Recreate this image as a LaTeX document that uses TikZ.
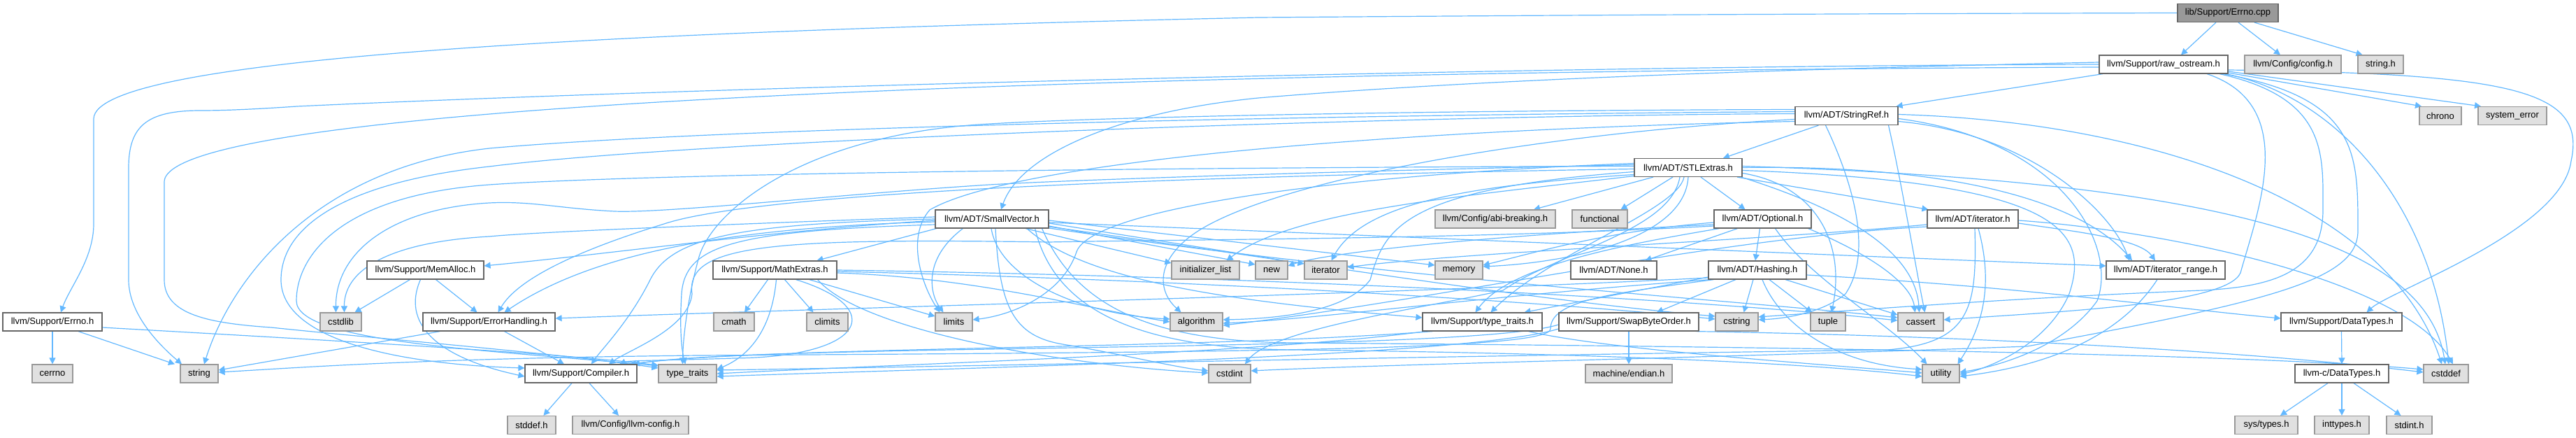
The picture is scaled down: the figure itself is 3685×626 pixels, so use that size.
\documentclass[tikz,border=0pt]{standalone}
\usepackage{fontspec}
\setmainfont{Liberation Sans}
\usetikzlibrary{arrows.meta,calc}
\pgfdeclarelayer{edgelayer}
\pgfsetlayers{edgelayer,main}
\definecolor{edgeblue}{HTML}{63B8FF}
\definecolor{hdrline}{HTML}{666666}
\definecolor{sysfill}{HTML}{E0E0E0}
\definecolor{sysline}{HTML}{999999}
\definecolor{rootfill}{HTML}{999999}
\begin{document}
\begin{tikzpicture}[x=0.5pt,y=-0.5pt,
  hdr/.style={draw=hdrline,fill=white,line width=0.6pt,minimum height=13pt,inner sep=0pt,font=\fontsize{6.5}{7.5}\selectfont,text=black},
  sys/.style={hdr,draw=sysline,fill=sysfill},
  root/.style={hdr,fill=rootfill},
  inc/.style={draw=edgeblue,line width=0.6pt,-{Triangle[length=4.5pt,width=4.5pt]}},
]
\useasboundingbox (0,0) rectangle (3685,626);

% row 0
\node[root,minimum width=72pt] (cpp) at (3187,18.5) {lib/Support/Errno.cpp};
% row 1
\node[hdr,minimum width=92pt] (raw) at (3095,92) {llvm/Support/raw\_ostream.h};
\node[sys,minimum width=69pt] (config) at (3280,92) {llvm/Config/config.h};
\node[sys,minimum width=32.5pt] (stringh) at (3405.5,92) {string.h};
% row 2
\node[hdr,minimum width=73.5pt] (sref) at (2641.5,165.5) {llvm/ADT/StringRef.h};
\node[sys,minimum width=30pt] (chrono) at (3491,165.5) {chrono};
\node[sys,minimum width=49pt] (syserr) at (3594,165.5) {system\_error};
% row 3
\node[hdr,minimum width=77pt] (stl) at (2415,239.5) {llvm/ADT/STLExtras.h};
% row 4
\node[hdr,minimum width=81pt] (svec) at (1419,313) {llvm/ADT/SmallVector.h};
\node[sys,minimum width=86pt] (abi) at (2139,313) {llvm/Config/abi-breaking.h};
\node[sys,minimum width=39.5pt] (functional) at (2288.5,313) {functional};
\node[hdr,minimum width=69.5pt] (opt) at (2521.5,313) {llvm/ADT/Optional.h};
\node[hdr,minimum width=65pt] (iter) at (2822,313) {llvm/ADT/iterator.h};
% row 5
\node[hdr,minimum width=83.5pt] (memalloc) at (608.5,386) {llvm/Support/MemAlloc.h};
\node[hdr,minimum width=88.5pt] (math) at (1108.5,386) {llvm/Support/MathExtras.h};
\node[sys,minimum width=48.5pt] (initlist) at (1724.5,386) {initializer\_list};
\node[sys,minimum width=23pt] (new) at (1819,386) {new};
\node[sys,minimum width=30.5pt] (iterator) at (1896.5,386) {iterator};
\node[sys,minimum width=34pt] (memory) at (2087,386) {memory};
\node[hdr,minimum width=61.5pt] (none) at (2308.5,386) {llvm/ADT/None.h};
\node[hdr,minimum width=70pt] (hash) at (2514,386) {llvm/ADT/Hashing.h};
\node[hdr,minimum width=85pt] (irange) at (3098,386) {llvm/ADT/iterator\_range.h};
% row 6
\node[hdr,minimum width=71pt] (errnoh) at (75,460) {llvm/Support/Errno.h};
\node[sys,minimum width=29.5pt] (cstdlib) at (487.5,460) {cstdlib};
\node[hdr,minimum width=94.5pt] (errh) at (699.5,460) {llvm/Support/ErrorHandling.h};
\node[sys,minimum width=29pt] (cmath) at (1050,460) {cmath};
\node[sys,minimum width=29.5pt] (climits) at (1183.5,460) {climits};
\node[sys,minimum width=26.5pt] (limits) at (1364.5,460) {limits};
\node[sys,minimum width=37.5pt] (algorithm) at (1711.5,460) {algorithm};
\node[hdr,minimum width=85.5pt] (tt) at (2120.5,460) {llvm/Support/type\_traits.h};
\node[hdr,minimum width=100pt] (swap) at (2330,460) {llvm/Support/SwapByteOrder.h};
\node[sys,minimum width=30.5pt] (cstring) at (2484.5,460) {cstring};
\node[sys,minimum width=25pt] (tuple) at (2615,460) {tuple};
\node[sys,minimum width=32.5pt] (cassert) at (2747.5,460) {cassert};
\node[hdr,minimum width=86.5pt] (dtypes) at (3349.5,460) {llvm/Support/DataTypes.h};
% row 7
\node[sys,minimum width=29pt] (cerrno) at (75,534) {cerrno};
\node[sys,minimum width=27pt] (string) at (285,534) {string};
\node[hdr,minimum width=80pt] (comp) at (831,534) {llvm/Support/Compiler.h};
\node[sys,minimum width=41.5pt] (typetraits) at (983.5,534) {type\_traits};
\node[sys,minimum width=30pt] (cstdint) at (1759,534) {cstdint};
\node[sys,minimum width=62pt] (endian) at (2330,534) {machine/endian.h};
\node[sys,minimum width=26.5pt] (utility) at (2776.5,534) {utility};
\node[hdr,minimum width=67pt] (cdt) at (3350,534) {llvm-c/DataTypes.h};
\node[sys,minimum width=32pt] (cstddef) at (3499,534) {cstddef};
% row 8
\node[sys,minimum width=34.5pt] (stddef) at (760.5,607.5) {stddef.h};
\node[sys,minimum width=83pt] (llvmconfig) at (902,607.5) {llvm/Config/llvm-config.h};
\node[sys,minimum width=45pt] (systypes) at (3242,607.5) {sys/types.h};
\node[sys,minimum width=39pt] (inttypes) at (3350,607.5) {inttypes.h};
\node[sys,minimum width=32.5pt] (stdint) at (3446.5,607.5) {stdint.h};

\begin{pgfonlayer}{edgelayer}
% Errno.cpp
\draw[inc] ($(cpp.south)+(-17,0)$) -- ($(raw.north)+(25,0)$);
\draw[inc] ($(cpp.south)+(15,0)$) -- ($(config.north)+(-18,0)$);
\draw[inc] ($(cpp.south)+(38,0)$) -- ($(stringh.north)+(-26,0)$);
\draw[inc] (cpp.west) .. controls (2500,20) and (2200,22) .. (1800,25) .. controls (900,45) and (134,80) .. (134,170) -- (134,320) .. controls (134,370) and (100,410) .. ($(errnoh.north)+(12,0)$);
% Errno.h
\draw[inc] (errnoh.south) -- (cerrno.north);
\draw[inc] ($(errnoh.south)+(37,0)$) -- ($(string.north)+(-35,0)$);
\draw[inc] ($(errnoh.east)+(0,8)$) .. controls (500,488) and (800,505) .. ($(typetraits.west)+(0,-12)$);
% raw_ostream.h
\draw[inc] ($(raw.south)+(-87,0)$) -- ($(sref.north east)+(-3,0)$);
\draw[inc] ($(raw.east)+(0,12)$) -- ($(chrono.north)+(-27,0)$);
\draw[inc] ($(raw.east)+(0,10)$) -- ($(syserr.north)+(-45,0)$);
\draw[inc] ($(raw.east)+(0,8)$) .. controls (3600,105) and (3700,130) .. (3678,230) .. controls (3665,330) and (3420,415) .. ($(dtypes.north)+(36,0)$);
\draw[inc] ($(raw.south)+(62,0)$) .. controls (3290,150) and (3230,300) .. (3205,390) .. controls (3185,435) and (2950,445) .. ($(cassert.east)+(0,-3)$);
\draw[inc] ($(raw.south)+(80,0)$) .. controls (3330,140) and (3323,220) .. (3323,300) .. controls (3323,390) and (3250,410) .. (3150,415) .. controls (2900,425) and (2700,440) .. ($(cstring.east)+(0,-7)$);
\draw[inc] ($(raw.south)+(85,0)$) .. controls (3375,140) and (3373,220) .. (3373,330) .. controls (3373,400) and (3250,430) .. (2900,495) .. controls (2500,510) and (2000,520) .. ($(cstdint.east)+(0,-4)$);
\draw[inc] ($(raw.south)+(89,0)$) .. controls (3350,140) and (3480,300) .. ($(cstddef.north)+(4,0)$);
\draw[inc] (raw.west) .. controls (2200,94) and (1000,125) .. (425,152) .. controls (380,155) and (330,158) .. (287,158) .. controls (210,158) and (184,180) .. (184,240) -- (184,400) .. controls (184,450) and (230,495) .. ($(string.north)+(-25,0)$);
\draw[inc] ($(raw.west)+(0,4)$) .. controls (2000,100) and (235,130) .. (235,260) -- (235,400) .. controls (235,450) and (300,462) .. (388,468) .. controls (550,485) and (800,505) .. ($(typetraits.west)+(0,-8)$);
\draw[inc] ($(raw.west)+(0,-3)$) .. controls (2500,100) and (2100,115) .. (1800,140) .. controls (1600,160) and (1460,220) .. ($(svec.north)+(13,0)$);
% StringRef.h
\draw[inc] ($(sref.south)+(-40,0)$) -- ($(stl.north)+(50,0)$);
\draw[inc] ($(sref.east)+(0,8)$) .. controls (2900,190) and (3020,300) .. ($(irange.north)+(-52,0)$);
\draw[inc] ($(sref.west)+(0,-3)$) .. controls (2000,165) and (1000,200) .. (700,238) .. controls (500,260) and (402,320) .. (402,400) .. controls (402,480) and (550,520) .. ($(comp.west)+(0,-8)$);
\draw[inc] ($(sref.west)+(0,5)$) .. controls (2200,190) and (1800,260) .. (1700,340) .. controls (1650,380) and (1660,420) .. ($(algorithm.north)+(-22,0)$);
\draw[inc] ($(sref.south)+(60,0)$) .. controls (2720,260) and (2740,380) .. ($(cassert.north)+(6,0)$);
\draw[inc] ($(sref.east)+(0,-2)$) .. controls (3100,175) and (3420,300) .. ($(cstddef.north)+(-6,0)$);
\draw[inc] ($(sref.south)+(-30,0)$) .. controls (2650,260) and (2680,360) .. (2640,420) .. controls (2610,445) and (2560,455) .. ($(cstring.east)+(0,-3)$);
\draw[inc] ($(sref.west)+(0,8)$) .. controls (2000,185) and (1450,230) .. (1330,300) .. controls (1295,340) and (1320,410) .. ($(limits.north)+(-20,0)$);
\draw[inc] ($(sref.west)+(0,-6)$) .. controls (1800,165) and (1000,185) .. (700,212) .. controls (450,240) and (330,400) .. ($(string.north)+(7,0)$);
\draw[inc] ($(sref.west)+(0,-9)$) .. controls (2000,158) and (1550,168) .. (1400,178) .. controls (1150,195) and (1020,300) .. (1000,367) .. controls (985,420) and (977,480) .. ($(typetraits.north)+(-7,0)$);
\draw[inc] ($(sref.east)+(0,4)$) .. controls (2950,200) and (3030,350) .. (3000,430) .. controls (2950,500) and (2850,525) .. ($(utility.east)+(0,-2)$);
% STLExtras.h
\draw[inc] ($(stl.south)+(18,0)$) -- ($(opt.north)+(-25,0)$);
\draw[inc] ($(stl.south)+(70,0)$) -- ($(iter.north west)+(2,0)$);
\draw[inc] ($(stl.south)+(-50,0)$) -- ($(abi.north)+(55,0)$);
\draw[inc] ($(stl.south)+(-22,0)$) -- ($(functional.north)+(30,0)$);
\draw[inc] (stl.east) .. controls (2800,235) and (2980,290) .. ($(irange.north)+(-48,0)$);
\draw[inc] ($(stl.east)+(0,-2)$) .. controls (3200,260) and (3470,350) .. ($(cstddef.north)+(-1,0)$);
\draw[inc] ($(stl.east)+(0,4)$) .. controls (2950,260) and (2990,330) .. (2960,420) .. controls (2930,490) and (2850,525) .. ($(utility.east)+(0,1)$);
\draw[inc] ($(stl.south east)+(-2,0)$) .. controls (2640,300) and (2740,360) .. ($(cassert.north)+(-2,0)$);
\draw[inc] ($(stl.east)+(0,8)$) .. controls (2600,265) and (2640,350) .. ($(tuple.north)+(5,0)$);
\draw[inc] ($(stl.south)+(-6,0)$) .. controls (2400,300) and (2220,360) .. ($(tt.north)+(12,0)$);
\draw[inc] (stl.south) .. controls (2410,340) and (2250,375) .. ($(memory.east)+(0,-5)$);
\draw[inc] ($(stl.west)+(0,2)$) .. controls (1800,250) and (1100,270) .. (950,320) .. controls (820,360) and (740,400) .. ($(errh.north)+(13,0)$);
\draw[inc] ($(stl.west)+(0,6)$) .. controls (2000,270) and (1980,330) .. (1960,400) .. controls (1930,440) and (1850,455) .. ($(algorithm.east)+(0,-3)$);
\draw[inc] ($(stl.south)+(-12,0)$) .. controls (2390,330) and (2230,360) .. (2150,415) .. controls (2040,440) and (1820,470) .. ($(cstdint.north)+(22,0)$);
\draw[inc] ($(stl.west)+(0,-4)$) .. controls (1900,245) and (1500,258) .. (1400,265) .. controls (1200,278) and (950,305) .. (879,302) .. controls (800,298) and (760,287) .. (700,290) .. controls (560,298) and (480,360) .. ($(cstdlib.north)+(-7,0)$);
\draw[inc] ($(stl.west)+(0,12)$) .. controls (2100,280) and (1850,300) .. ($(initlist.north)+(30,0)$);
\draw[inc] ($(stl.west)+(0,10)$) .. controls (2100,265) and (1950,290) .. ($(iterator.north)+(8,0)$);
\draw[inc] ($(stl.west)+(0,-6)$) .. controls (1900,250) and (1560,300) .. (1540,360) .. controls (1520,420) and (1450,450) .. ($(limits.east)+(0,-3)$);
\draw[inc] ($(stl.west)+(0,-2)$) .. controls (1500,240) and (900,250) .. (700,264) .. controls (480,280) and (424,370) .. (424,430) .. controls (424,490) and (700,500) .. ($(typetraits.west)+(0,-11)$);
% Optional.h
\draw[inc] ($(opt.south)+(-4,0)$) -- ($(hash.north)+(-3,0)$);
\draw[inc] ($(opt.south)+(-36,0)$) -- ($(none.north)+(45,0)$);
\draw[inc] ($(opt.south east)+(-5,0)$) .. controls (2690,370) and (2735,410) .. ($(cassert.north)+(-8,0)$);
\draw[inc] ($(opt.south)+(18,0)$) .. controls (2590,400) and (2700,460) .. ($(utility.north)+(-20,0)$);
\draw[inc] ($(opt.west)+(0,5)$) .. controls (2300,330) and (2200,360) .. ($(memory.east)+(0,-7)$);
\draw[inc] ($(opt.west)+(0,8)$) .. controls (2150,335) and (1900,360) .. ($(new.east)+(0,-6)$);
\draw[inc] ($(opt.west)+(0,10)$) .. controls (2100,342) and (1700,342) .. (1500,346) .. controls (1100,340) and (980,350) .. (990,420) .. controls (985,470) and (900,500) .. ($(comp.north)+(40,0)$);
\draw[inc] ($(opt.south west)+(8,0)$) .. controls (2320,350) and (2160,380) .. ($(tt.north)+(-10,0)$);
% Hashing.h
\draw[inc] ($(hash.south)+(-31,0)$) -- ($(swap.north)+(40,0)$);
\draw[inc] ($(hash.south)+(-6,0)$) -- ($(cstring.north)+(10,0)$);
\draw[inc] ($(hash.south)+(17,0)$) -- ($(tuple.north)+(-23,0)$);
\draw[inc] ($(hash.south)+(40,0)$) -- ($(cassert.west)+(0,-10)$);
\draw[inc] ($(hash.south)+(7,0)$) .. controls (2545,460) and (2620,520) .. ($(utility.west)+(0,-6)$);
\draw[inc] ($(hash.east)+(0,7)$) .. controls (2900,410) and (3100,440) .. ($(dtypes.west)+(0,-5)$);
\draw[inc] ($(hash.west)+(0,10)$) -- ($(tt.north)+(60,0)$);
\draw[inc] ($(hash.west)+(0,11)$) .. controls (2000,420) and (1200,440) .. ($(errh.east)+(0,-5)$);
\draw[inc] ($(hash.south west)+(3,0)$) .. controls (2100,425) and (1900,455) .. ($(algorithm.east)+(0,2)$);
\draw[inc] ($(hash.south west)+(8,0)$) .. controls (2300,420) and (2218,430) .. (2218,470) .. controls (2218,500) and (1800,503) .. (1000,508) .. controls (600,512) and (420,526) .. ($(string.east)+(0,-2)$);
% iterator.h
\draw[inc] ($(iter.east)+(0,6)$) .. controls (2960,330) and (3060,340) .. ($(irange.north)+(-15,0)$);
\draw[inc] ($(iter.east)+(0,2)$) .. controls (3100,330) and (3440,400) .. ($(cstddef.north)+(10,0)$);
\draw[inc] ($(iter.south)+(8,0)$) .. controls (2850,400) and (2840,460) .. ($(utility.north)+(24,0)$);
\draw[inc] ($(iter.south)+(3,0)$) .. controls (2828,440) and (2820,490) .. (2700,500) .. controls (2000,510) and (1300,525) .. ($(typetraits.east)+(0,-5)$);
\draw[inc] ($(iter.west)+(0,8)$) .. controls (2500,345) and (2100,360) .. ($(iterator.east)+(0,-4)$);
\draw[inc] ($(iter.west)+(0,11)$) .. controls (2450,340) and (2050,430) .. ($(algorithm.east)+(0,5)$);
% iterator_range.h
\draw[inc] ($(irange.south)+(-12,0)$) .. controls (3040,470) and (2950,520) .. ($(utility.east)+(0,4)$);
% SmallVector.h
\draw[inc] ($(svec.east)+(0,5)$) .. controls (2000,338) and (2700,368) .. ($(irange.west)+(0,-6)$);
\draw[inc] (svec.west) .. controls (1050,320) and (960,340) .. (930,400) .. controls (900,460) and (860,500) .. ($(comp.north)+(15,0)$);
\draw[inc] ($(svec.west)+(0,4)$) .. controls (1050,325) and (850,360) .. ($(errh.north)+(22,0)$);
\draw[inc] ($(svec.south west)+(2,0)$) -- ($(math.north)+(60,0)$);
\draw[inc] ($(svec.west)+(0,2)$) .. controls (1100,330) and (900,360) .. ($(memalloc.east)+(0,-6)$);
\draw[inc] ($(svec.west)+(0,-3)$) .. controls (1000,322) and (760,332) .. (700,338) .. controls (570,345) and (492,380) .. ($(cstdlib.north)+(5,0)$);
\draw[inc] ($(svec.west)+(0,8)$) .. controls (1050,330) and (980,350) .. (975,420) .. controls (972,470) and (975,500) .. ($(typetraits.north)+(-3,0)$);
\draw[inc] ($(svec.south)+(-1,0)$) .. controls (1430,400) and (1550,450) .. ($(algorithm.west)+(0,-4)$);
\draw[inc] ($(svec.south)+(5,0)$) .. controls (1430,440) and (1450,480) .. (1520,492) .. controls (1600,505) and (1680,525) .. ($(cstdint.west)+(0,-4)$);
\draw[inc] ($(svec.south west)+(40,0)$) .. controls (1320,370) and (1330,420) .. ($(limits.north)+(-15,0)$);
\draw[inc] ($(svec.south)+(48,0)$) -- ($(initlist.west)+(0,-10)$);
\draw[inc] ($(svec.east)+(0,10)$) -- ($(new.west)+(0,-8)$);
\draw[inc] ($(svec.east)+(0,6)$) -- ($(iterator.west)+(0,-9)$);
\draw[inc] ($(svec.east)+(0,2)$) -- ($(memory.west)+(0,-7)$);
\draw[inc] ($(svec.south)+(50,0)$) .. controls (1550,400) and (1750,430) .. ($(tt.west)+(0,-6)$);
\draw[inc] ($(svec.east)+(0,11)$) .. controls (1900,380) and (2200,430) .. ($(cstring.west)+(0,-8)$);
\draw[inc] ($(svec.east)+(0,13)$) .. controls (2000,400) and (2500,430) .. ($(cassert.west)+(0,-6)$);
\draw[inc] ($(svec.south east)+(-10,0)$) .. controls (1540,440) and (1650,488) .. (1850,490) .. controls (2500,495) and (3200,505) .. ($(cstddef.west)+(0,-6)$);
\draw[inc] ($(svec.south east)+(-20,0)$) .. controls (1510,450) and (1640,498) .. (1850,500) .. controls (2300,505) and (2600,520) .. ($(utility.west)+(0,4)$);
% MathExtras.h
\draw[inc] ($(math.south)+(-10,0)$) -- ($(cmath.north)+(15,0)$);
\draw[inc] ($(math.south)+(14,0)$) -- ($(climits.north)+(-20,0)$);
\draw[inc] ($(math.south)+(2,0)$) .. controls (1105,460) and (1080,505) .. ($(typetraits.east)+(0,-6)$);
\draw[inc] ($(math.south)+(30,0)$) .. controls (1270,440) and (1240,510) .. (1050,512) .. controls (960,515) and (900,515) .. ($(comp.north)+(55,0)$);
\draw[inc] ($(math.east)+(0,4)$) .. controls (1400,397) and (1550,440) .. (algorithm.west);
\draw[inc] ($(math.east)+(0,2)$) .. controls (1700,400) and (2200,430) .. ($(cstring.west)+(0,-4)$);
\draw[inc] (math.east) .. controls (1800,395) and (2400,425) .. ($(cassert.west)+(0,-2)$);
\draw[inc] ($(math.south east)+(-28,0)$) .. controls (1230,470) and (1500,520) .. ($(cstdint.west)+(0,-1)$);
\draw[inc] ($(math.south east)+(-40,0)$) -- ($(limits.west)+(0,-8)$);
% MemAlloc.h
\draw[inc] ($(memalloc.south)+(-22,0)$) -- ($(cstdlib.north)+(20,0)$);
\draw[inc] ($(memalloc.south)+(15,0)$) -- ($(errh.north)+(-17,0)$);
\draw[inc] ($(memalloc.south)+(-7,0)$) .. controls (575,460) and (620,510) .. ($(comp.west)+(0,4)$);
% ErrorHandling.h
\draw[inc] ($(errh.south)+(22,0)$) -- ($(comp.north)+(-24,0)$);
\draw[inc] ($(errh.south west)+(25,0)$) -- ($(string.east)+(0,-5)$);
% Compiler.h
\draw[inc] ($(comp.south)+(-13,0)$) -- ($(stddef.north)+(17,0)$);
\draw[inc] ($(comp.south)+(12,0)$) -- ($(llvmconfig.north)+(-17,0)$);
% Support/type_traits.h
\draw[inc] ($(tt.south west)+(5,0)$) .. controls (1800,505) and (1300,520) .. (typetraits.east);
\draw[inc] ($(tt.south west)+(15,0)$) .. controls (1700,500) and (1100,495) .. ($(comp.north)+(70,0)$);
\draw[inc] ($(tt.south east)+(-20,0)$) .. controls (2300,500) and (2600,520) .. ($(utility.west)+(0,-1)$);
% SwapByteOrder.h
\draw[inc] (swap.south) -- (endian.north);
\draw[inc] ($(swap.south east)+(-5,0)$) .. controls (2800,480) and (3200,500) .. ($(cstddef.west)+(0,-2)$);
\draw[inc] ($(swap.west)+(0,10)$) .. controls (2100,510) and (1400,525) .. ($(typetraits.east)+(0,4)$);
\draw[inc] ($(swap.west)+(0,4)$) .. controls (2100,505) and (1100,490) .. ($(comp.north)+(75,0)$);
% DataTypes
\draw[inc] (dtypes.south) -- (cdt.north);
\draw[inc] ($(cdt.south)+(-20,0)$) -- ($(systypes.north)+(20,0)$);
\draw[inc] (cdt.south) -- (inttypes.north);
\draw[inc] ($(cdt.south)+(17,0)$) -- ($(stdint.north)+(-12,0)$);
\end{pgfonlayer}
\end{tikzpicture}
\end{document}
